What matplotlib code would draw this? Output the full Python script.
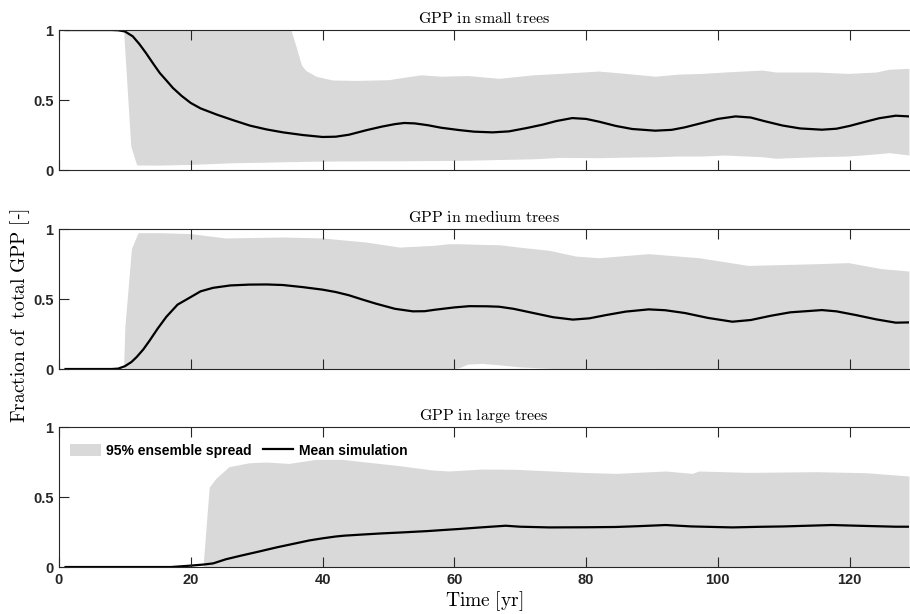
import matplotlib
matplotlib.use("Agg")
import matplotlib.pyplot as plt

# ---- data ----
# GPP in small trees
t_small_mean = [1, 8, 9, 10, 11.2, 12.2, 13.2, 14.3, 15.3, 16.3, 17.3, 18.6, 20, 21.5, 24, 26.5,
                29, 31.5, 34, 37, 40, 42, 44, 46.7, 49, 51, 52.4, 54, 56, 58, 60.8, 63, 65.8,
                68.3, 71, 73.4, 75.5, 77.9, 80, 82, 84.5, 87, 90.5, 93, 95, 97.6, 100, 102.7,
                105, 107, 109.8, 112.5, 115.8, 118, 120, 122, 124.5, 127, 129]
small_mean = [1, 1, 0.998, 0.99, 0.955, 0.9, 0.836, 0.76, 0.693, 0.64, 0.586, 0.53, 0.479, 0.44,
              0.395, 0.355, 0.317, 0.29, 0.269, 0.25, 0.236, 0.238, 0.252, 0.285, 0.31, 0.328,
              0.336, 0.333, 0.32, 0.302, 0.285, 0.274, 0.269, 0.276, 0.30, 0.324, 0.35, 0.371,
              0.365, 0.345, 0.315, 0.293, 0.281, 0.287, 0.305, 0.336, 0.365, 0.383, 0.375, 0.35,
              0.318, 0.297, 0.288, 0.295, 0.315, 0.34, 0.37, 0.388, 0.383]
t_small_band = [9.8, 10.9, 11.8, 15, 20, 26.4, 30, 35.2, 36, 36.8, 37.5, 39, 41.5, 45, 50, 52, 55,
                58, 62, 66.8, 72, 76, 81.9, 86, 90.5, 94, 97.6, 101, 106.7, 108.8, 115, 119.8,
                124, 126, 129]
small_hi = [1, 1, 1, 1, 1, 1, 1, 1, 0.88, 0.75, 0.71, 0.67, 0.643, 0.64, 0.645, 0.66, 0.68, 0.67,
            0.675, 0.655, 0.68, 0.69, 0.707, 0.69, 0.67, 0.685, 0.69, 0.70, 0.714, 0.70, 0.70,
            0.69, 0.70, 0.72, 0.726]
small_lo = [1.0, 0.17, 0.036, 0.035, 0.04, 0.052, 0.055, 0.06, 0.06, 0.062, 0.062, 0.063, 0.064,
            0.065, 0.066, 0.066, 0.067, 0.068, 0.07, 0.075, 0.08, 0.09, 0.088, 0.092, 0.095,
            0.1, 0.1, 0.107, 0.095, 0.084, 0.095, 0.1, 0.115, 0.124, 0.107]

# GPP in medium trees
t_med_mean = [1, 8, 9, 10, 11, 11.8, 12.8, 13.8, 15, 16.3, 18, 20, 21.5, 23.4, 26, 28.9, 31.5, 34,
              37, 40, 42, 44, 46, 48.1, 51, 53.7, 55.5, 57, 60, 62.3, 65, 66.8, 69, 72, 75, 78,
              80.5, 83, 86, 89.5, 92, 95, 98.5, 102.2, 105, 108, 111, 115.8, 118, 121, 124, 127,
              129]
med_mean = [0, 0, 0.003, 0.02, 0.05, 0.086, 0.14, 0.206, 0.29, 0.373, 0.46, 0.514, 0.555, 0.58,
            0.597, 0.603, 0.604, 0.6, 0.585, 0.567, 0.55, 0.527, 0.497, 0.467, 0.43, 0.412,
            0.413, 0.423, 0.44, 0.449, 0.448, 0.445, 0.43, 0.40, 0.37, 0.353, 0.362, 0.385,
            0.41, 0.426, 0.42, 0.40, 0.365, 0.338, 0.35, 0.38, 0.405, 0.421, 0.412, 0.385,
            0.355, 0.331, 0.333]
t_med_band = [9.8, 10, 11, 12, 15.3, 20, 25.3, 30, 34, 40, 46.6, 51.7, 56.7, 59.2, 60.8, 62,
              64.2, 66.8, 70, 74.4, 78.4, 81.9, 89.5, 97.1, 104.6, 114.8, 119.8, 124.8, 129]
med_hi = [0.0, 0.3, 0.86, 0.974, 0.974, 0.967, 0.936, 0.94, 0.943, 0.936, 0.907, 0.871, 0.883,
          0.895, 0.895, 0.893, 0.89, 0.888, 0.87, 0.848, 0.807, 0.795, 0.824, 0.795, 0.74,
          0.752, 0.76, 0.717, 0.70]
med_lo = [0, 0, 0, 0, 0, 0, 0, 0, 0, 0, 0, 0, 0, 0.0, 0.01, 0.035, 0.04, 0.03, 0.015, 0.005, 0,
          0, 0.005, 0, 0, 0, 0, 0, 0]

# GPP in large trees
t_large_mean = [1, 17, 20, 22, 23.4, 25.3, 27.5, 30.3, 33, 35.4, 38, 40, 42, 43.3, 46, 48.9, 52,
                56, 58.5, 60.8, 64, 67.8, 70, 74.4, 80, 84.5, 88, 92.1, 96, 102.2, 106, 110,
                117.3, 122, 127, 129]
large_mean = [0, 0, 0.01, 0.018, 0.026, 0.055, 0.08, 0.11, 0.14, 0.164, 0.19, 0.205, 0.218, 0.224,
              0.232, 0.24, 0.247, 0.257, 0.265, 0.272, 0.283, 0.295, 0.288, 0.283, 0.284, 0.286,
              0.292, 0.30, 0.29, 0.283, 0.287, 0.29, 0.30, 0.294, 0.288, 0.288]
t_large_band = [21.9, 22.8, 23.8, 25.8, 28.9, 31.4, 34.9, 39, 43, 46.6, 51.7, 56.7, 59.2, 64.2,
                69.3, 79.4, 84.5, 92.1, 96.1, 97.1, 104.6, 114.8, 122.4, 129]
large_hi = [0.026, 0.57, 0.633, 0.717, 0.745, 0.75, 0.74, 0.769, 0.769, 0.75, 0.724, 0.693, 0.686,
            0.70, 0.698, 0.676, 0.669, 0.686, 0.669, 0.686, 0.676, 0.681, 0.674, 0.65]
large_lo = [0] * len(t_large_band)

titles = ["GPP in small trees", "GPP in medium trees", "GPP in large trees"]

# ---- style ----
plt.rcParams["mathtext.fontset"] = "cm"
plt.rcParams["font.family"] = ["Liberation Sans", "DejaVu Sans"]
axis_col = "#262626"
band_col = "#d9d9d9"

fig = plt.figure(figsize=(9.1, 6.14), dpi=100)
bottoms = [0.7231, 0.399, 0.0765]
panels = [
    (t_small_band, small_lo, small_hi, t_small_mean, small_mean),
    (t_med_band, med_lo, med_hi, t_med_mean, med_mean),
    (t_large_band, large_lo, large_hi, t_large_mean, large_mean),
]

axes = []
for i, (tb, lo, hi, tm, m) in enumerate(panels):
    ax = fig.add_axes([0.0648, bottoms[i], 0.934, 0.228])
    ax.set_axisbelow(False)
    band = ax.fill_between(tb, lo, hi, color=band_col, linewidth=0,
                           label="95% ensemble spread")
    line, = ax.plot(tm, m, color="black", linewidth=1.6, label="Mean simulation",
                    solid_joinstyle="round")
    ax.set_xlim(0, 129)
    ax.set_ylim(0, 1)
    ax.set_yticks([0, 0.5, 1])
    ax.set_yticklabels(["0", "0.5", "1"])
    ax.set_xticks([0, 20, 40, 60, 80, 100, 120])
    ax.tick_params(axis="both", direction="in", top=True, right=False, length=7, width=0.8,
                   colors=axis_col, labelsize=10.5, pad=4)
    for lab in ax.get_xticklabels() + ax.get_yticklabels():
        lab.set_fontweight("bold")
    for s in ax.spines.values():
        s.set_color(axis_col)
        s.set_linewidth(0.8)
    ax.spines["right"].set_visible(False)
    if i < 2:
        ax.tick_params(labelbottom=False)
    title = r"$\mathrm{" + titles[i].replace(" ", r"\ ") + "}$"
    ax.set_title(title, fontsize=11.5, pad=5, color="black")
    axes.append(ax)

leg = axes[2].legend(handles=[band, line], loc="upper left", ncol=2, frameon=False,
                     bbox_to_anchor=(0.0, 0.96), handlelength=2.2, handleheight=1.0,
                     columnspacing=0.8, handletextpad=0.4, borderaxespad=0.4,
                     prop={"weight": "bold", "size": 10})

axes[2].set_xlabel(r"$\mathrm{Time\ [yr]}$", fontsize=14, labelpad=2)
fig.text(0.022, 0.486, r"$\mathrm{Fraction\ of\ \ total\ GPP\ [}$-$\mathrm{]}$", rotation=90,
         fontsize=14, ha="center", va="center")

fig.savefig("out.png", dpi=100)
